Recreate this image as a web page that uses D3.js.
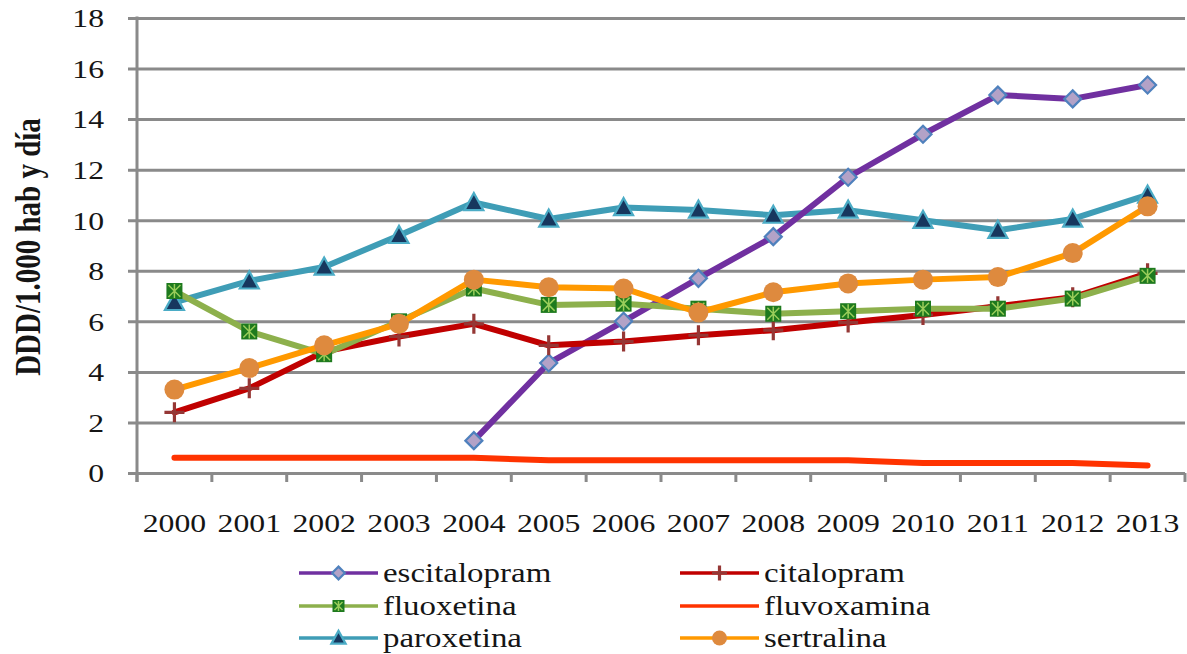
<!DOCTYPE html>
<html>
<head>
<meta charset="utf-8">
<script src="https://cdn.jsdelivr.net/npm/d3@7"></script>
<style>
  html, body { margin: 0; padding: 0; background: #fff; }
  svg { display: block; }
  text { font-family: "Liberation Serif", "Times New Roman", serif; fill: #151515; }
</style>
</head>
<body>
<svg id="chart" width="1187" height="654"></svg>
<script>
const years = ["2000","2001","2002","2003","2004","2005","2006","2007","2008","2009","2010","2011","2012","2013"];
const yTicks = [0, 2, 4, 6, 8, 10, 12, 14, 16, 18];
const yTitle = "DDD/1.000 hab y día";

const escitalopram = [null, null, null, null, 1.28, 4.35, 6.0, 7.7, 9.35, 11.7, 13.4, 14.95, 14.8, 15.35];
const citalopram   = [2.4, 3.35, 4.8, 5.4, 5.9, 5.05, 5.2, 5.45, 5.65, 5.95, 6.25, 6.6, 6.95, 7.9];
const fluoxetina   = [7.2, 5.6, 4.7, 6.0, 7.3, 6.65, 6.7, 6.5, 6.3, 6.4, 6.5, 6.5, 6.9, 7.8];
const fluvoxamina  = [0.6, 0.6, 0.6, 0.6, 0.6, 0.5, 0.5, 0.5, 0.5, 0.5, 0.4, 0.4, 0.4, 0.3];
const paroxetina   = [6.75, 7.6, 8.15, 9.4, 10.7, 10.05, 10.5, 10.4, 10.2, 10.4, 10.0, 9.6, 10.05, 11.0];
const sertralina   = [3.3, 4.15, 5.05, 5.9, 7.65, 7.35, 7.3, 6.35, 7.15, 7.5, 7.65, 7.75, 8.7, 10.55];

const seriesNames = ["escitalopram","citalopram","fluoxetina","fluvoxamina","paroxetina","sertralina"];
const seriesValues = [escitalopram, citalopram, fluoxetina, fluvoxamina, paroxetina, sertralina];

const styles = {
  escitalopram: {line: "#7030A0", marker: "diamond"},
  citalopram:   {line: "#C00000", marker: "plus"},
  fluoxetina:   {line: "#8DB04C", marker: "xsquare"},
  fluvoxamina:  {line: "#FF3300", marker: null},
  paroxetina:   {line: "#3F9DB6", marker: "triangle"},
  sertralina:   {line: "#FF9900", marker: "circle"}
};

const SX = 1.22; // horizontal stretch of the serif text
const svg = d3.select("#chart");
const plotLeft = 137, plotRight = 1185, plotTop = 18, plotBottom = 473;

const x = d3.scaleBand().domain(years).range([plotLeft, plotRight]);
const y = d3.scaleLinear().domain([0, 18]).range([plotBottom, plotTop]);
const gridColor = "#8a8a8a";

// horizontal gridlines + y axis
const yAxis = d3.axisLeft(y).tickValues(yTicks).tickSize(9).tickPadding(24).tickFormat(d3.format("d"));
const gy = svg.append("g").attr("transform", `translate(${plotLeft},0)`).call(yAxis);
gy.select(".domain").remove();
gy.selectAll(".tick line").attr("stroke", gridColor).attr("stroke-width", 3)
  .attr("x1", -9).attr("x2", plotRight - plotLeft);
gy.selectAll(".tick text").attr("font-size", 26).attr("fill", "#151515")
  .attr("transform", `scale(${SX},1)`)
  .attr("x", -33 / SX)
  .attr("dy", "0.34em");

// y axis line
svg.append("line").attr("x1", plotLeft).attr("x2", plotLeft).attr("y1", plotTop - 1.5).attr("y2", plotBottom + 9)
  .attr("stroke", gridColor).attr("stroke-width", 3);

// x axis boundary ticks
const bounds = years.map(d => x(d)).concat([x(years[years.length - 1]) + x.step()]);
svg.append("g").selectAll("line").data(bounds).join("line")
  .attr("x1", d => d).attr("x2", d => d).attr("y1", plotBottom).attr("y2", plotBottom + 9)
  .attr("stroke", gridColor).attr("stroke-width", 3);

// x labels
const xAxis = d3.axisBottom(x).tickSize(0).tickPadding(0);
const gx = svg.append("g").attr("transform", `translate(0,${plotBottom})`).call(xAxis);
gx.select(".domain").remove();
gx.selectAll(".tick text").attr("font-size", 26).attr("fill", "#151515")
  .attr("transform", `scale(${SX},1)`).attr("y", 59).attr("dy", 0);

// y title (glyph heights stretched horizontally, like the rest of the picture)
svg.append("text")
  .attr("transform", `translate(40,247) rotate(-90) scale(1,${SX})`)
  .attr("text-anchor", "middle").attr("font-weight", "bold").attr("font-size", 29)
  .text(yTitle);

// markers
function drawMarker(g, type, cx, cy, s) {
  if (type === "diamond") {
    const r = 8.5 * s;
    g.append("path").attr("d", `M${cx},${cy - r}L${cx + r},${cy}L${cx},${cy + r}L${cx - r},${cy}Z`)
      .attr("fill", "#B3A2C7").attr("stroke", "#4F81BD").attr("stroke-width", 2.2);
  } else if (type === "plus") {
    const r = 10 * s;
    g.append("path").attr("d", `M${cx - r},${cy}H${cx + r}M${cx},${cy - r}V${cy + r}`)
      .attr("stroke", "#953735").attr("stroke-width", 3.2).attr("fill", "none");
  } else if (type === "xsquare") {
    const r = 8 * s;
    g.append("rect").attr("x", cx - r).attr("y", cy - r).attr("width", 2 * r).attr("height", 2 * r)
      .attr("fill", "#1E7A1E");
    g.append("path").attr("d", `M${cx - r + 2},${cy - r + 2}L${cx + r - 2},${cy + r - 2}M${cx + r - 2},${cy - r + 2}L${cx - r + 2},${cy + r - 2}M${cx},${cy - r + 1}V${cy + r - 1}`)
      .attr("stroke", "#9ACD5A").attr("stroke-width", 1.5);
  } else if (type === "triangle") {
    const r = 9.5 * s;
    g.append("path").attr("d", `M${cx},${cy - r}L${cx + r},${cy + r * 0.8}L${cx - r},${cy + r * 0.8}Z`)
      .attr("fill", "#17375E").attr("stroke", "#4BACC6").attr("stroke-width", 2.2);
  } else if (type === "circle") {
    g.append("circle").attr("cx", cx).attr("cy", cy).attr("r", 10 * s).attr("fill", "#DE8A3E");
  }
}

// series lines
const line = d3.line().defined(d => d.v !== null).x(d => x(d.year) + x.bandwidth() / 2).y(d => y(d.v));
const drawOrder = ["fluvoxamina", "paroxetina", "escitalopram", "citalopram", "fluoxetina", "sertralina"];
drawOrder.forEach(name => {
  const vals = seriesValues[seriesNames.indexOf(name)];
  const data = years.map((yr, i) => ({year: yr, v: vals[i]}));
  const g = svg.append("g");
  g.append("path").datum(data).attr("d", line).attr("fill", "none")
    .attr("stroke", styles[name].line).attr("stroke-width", 6)
    .attr("stroke-linejoin", "round").attr("stroke-linecap", "round");
  if (styles[name].marker) {
    data.filter(d => d.v !== null).forEach(d => {
      drawMarker(g, styles[name].marker, x(d.year) + x.bandwidth() / 2, y(d.v), 1);
    });
  }
});

// legend
const legendRows = [573, 606, 638];
const legendCols = [299, 680];
seriesNames.forEach((name, i) => {
  const col = i % 2, row = Math.floor(i / 2);
  const lx = legendCols[col], ly = legendRows[row];
  const g = svg.append("g");
  g.append("line").attr("x1", lx).attr("x2", lx + 79).attr("y1", ly).attr("y2", ly)
    .attr("stroke", styles[name].line).attr("stroke-width", 3.5);
  if (styles[name].marker) drawMarker(g, styles[name].marker, lx + 39.5, ly, 0.75);
  g.append("text").attr("transform", `translate(${lx + 84},${ly}) scale(${SX},1)`)
    .attr("dy", "0.32em").attr("font-size", 27).text(name);
});
</script>
</body>
</html>
